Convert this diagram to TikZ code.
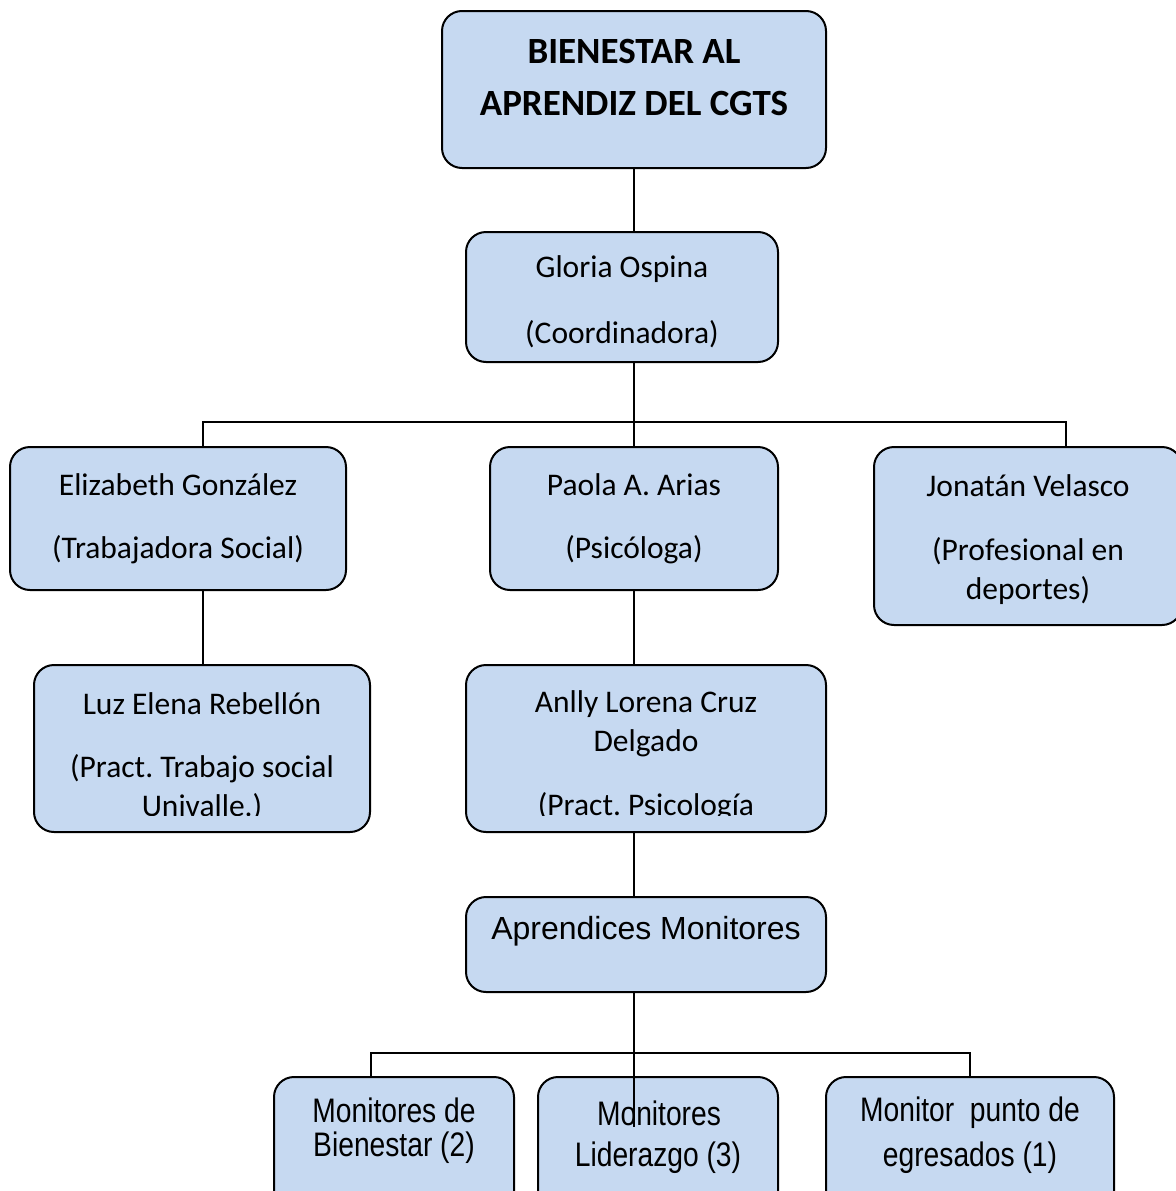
\documentclass[tikz,border=0pt]{standalone}
\usepackage{fontspec}
\setmainfont{Carlito}
\newfontfamily\arialf{Liberation Sans}
\newfontfamily\narrowf[FakeStretch=0.83]{Liberation Sans}
\definecolor{boxfill}{HTML}{C6D9F1}
\frenchspacing
\begin{document}
\begin{tikzpicture}[x=1pt,y=-1pt,
  box/.style={draw=black, line width=2pt, fill=boxfill, rounded corners=20pt},
  conn/.style={draw=black, line width=2pt},
  txt/.style={inner sep=0pt, font=\fontsize{31.5}{36}\selectfont},
  ttl/.style={inner sep=0pt, font=\fontsize{37}{42}\selectfont\bfseries},
  arl/.style={inner sep=0pt, font=\arialf\fontsize{32}{36}\selectfont},
  nrw/.style={inner sep=0pt, font=\narrowf\fontsize{34}{38}\selectfont}]
\useasboundingbox (0,0) rectangle (1175,1191);
% boxes
\path[box] (442,11) rectangle (826,168);
\path[box] (466,232) rectangle (778,362);
\path[box] (10,447) rectangle (346,590);
\path[box] (490,447) rectangle (778,590);
\path[box] (874,447) rectangle (1182,625);
\path[box] (34,665) rectangle (370,832);
\path[box] (466,665) rectangle (826,832);
\path[box] (466,897) rectangle (826,992);
\path[box] (274,1077) rectangle (514,1215);
\path[box] (538,1077) rectangle (778,1215);
\path[box] (826,1077) rectangle (1114,1215);
% connector coordinates
\coordinate (top) at (634,168);
\coordinate (glT) at (634,232); \coordinate (glB) at (634,362);
\coordinate (bar1) at (634,422);
\coordinate (eT) at (203,447); \coordinate (eB) at (203,590);
\coordinate (pT) at (634,447); \coordinate (pB) at (634,590);
\coordinate (jT) at (1066,447);
\coordinate (lT) at (203,665);
\coordinate (aT) at (634,665); \coordinate (aB) at (634,832);
\coordinate (mT) at (634,897); \coordinate (mB) at (634,992);
\coordinate (bar2) at (634,1053);
\coordinate (b1T) at (371,1077); \coordinate (b3T) at (970,1077);
\coordinate (b2in) at (634,1127);
% connectors
\draw[conn] (top) -- (glT);
\draw[conn] (glB) -- (bar1);
\draw[conn] (eT) |- (bar1) -| (jT);
\draw[conn] (bar1) -- (pT);
\draw[conn] (eB) -- (lT);
\draw[conn] (pB) -- (aT);
\draw[conn] (aB) -- (mT);
\draw[conn] (mB) -- (bar2);
\draw[conn] (b1T) |- (bar2) -| (b3T);
\draw[conn, line width=1.5pt] (bar2) -- (b2in);
% texts
\node[ttl] (t1) at (634,51) {BIENESTAR AL};
\node[ttl] (t2) at (634,103) {APRENDIZ DEL CGTS};
\node[txt] (g1) at (622,269) {Gloria Ospina};
\node[txt] (g2) at (622,334) {(Coordinadora)};
\node[txt] (e1) at (178,485) {Elizabeth González};
\node[txt] (e2) at (178,550) {(Trabajadora Social)};
\node[txt] (p1) at (634,485) {Paola A. Arias};
\node[txt] (p2) at (634,550) {(Psicóloga)};
\node[txt] (j1) at (1028,486) {Jonatán Velasco};
\node[txt] (j2) at (1028,551) {(Profesional en};
\node[txt] (j3) at (1028,591) {deportes)};
\node[txt] (l1) at (202,704) {Luz Elena Rebellón};
\node[txt] (l2) at (202,769) {(Pract. Trabajo social};
\node[txt] (a1) at (646,704) {Anlly Lorena Cruz};
\node[txt] (a2) at (646,743) {Delgado};
\begin{scope}
\clip (30,780) rectangle (830,815);
\node[txt] (l3) at (202,807) {Univalle.)};
\node[txt] (a3) at (646,807) {(Pract. Psicología};
\end{scope}
\node[arl] (m1) at (646,931) {Aprendices Monitores};
\node[nrw] (b11) at (394,1110) {Monitores de};
\node[nrw] (b12) at (394,1148) {Bienestar (2)};
\node[nrw] (b21) at (659,1113) {Monitores};
\node[nrw] (b22) at (658,1158) {Liderazgo (3)};
\node[nrw] (b31) at (970,1113) {Monitor\ \ punto de};
\node[nrw] (b32) at (970,1158) {egresados (1)};
\end{tikzpicture}
\end{document}
